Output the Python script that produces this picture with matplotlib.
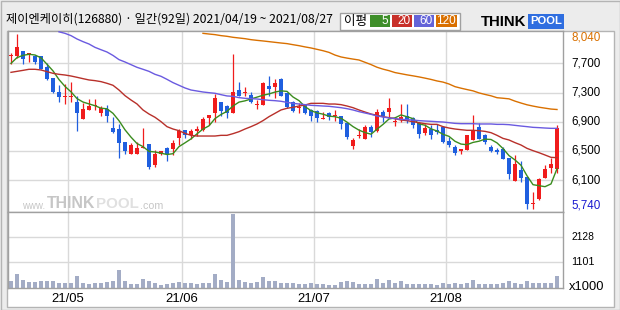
import matplotlib
matplotlib.use('Agg')
import matplotlib.pyplot as plt
import numpy as np
import pandas as pd
from matplotlib.patches import Rectangle

# ---------------- data ----------------
opens = [7753, 7753, 7818, 7779, 7753, 7753, 7608, 7464, 7284, 7210,
         7214, 7153, 6930, 7048, 7096, 7009, 7057, 6812, 6794, 6619,
         6471, 6471, 6549, 6597, 6326, 6462, 6545, 6536, 6681, 6777,
         6711, 6772, 6777, 6939, 7009, 7149, 7096, 7009, 7306, 7267,
         7241, 7105, 7114, 7359, 7346, 7451, 7267, 7153, 7066, 7105,
         7044, 7031, 6930, 7000, 6965, 6965, 6873, 6575, 6698, 6667,
         6820, 6772, 7017, 7022, 6882, 6921, 6965, 6939, 6873, 6746,
         6794, 6781, 6825, 6641, 6558, 6510, 6523, 6654, 6820, 6715,
         6558, 6518, 6531, 6418, 6116, 6256, 6164, 5805, 5871, 6155,
         6286, 6269]
highs = [7796, 8040, 7818, 7792, 7761, 7753, 7656, 7464, 7372, 7385,
         7416, 7228, 7131, 7184, 7188, 7092, 7109, 6948, 6860, 6619,
         6615, 6619, 6812, 6597, 6519, 6510, 6562, 6650, 6799, 6777,
         6799, 6838, 6952, 6974, 7254, 7149, 7109, 7779, 7411, 7341,
         7280, 7175, 7416, 7490, 7451, 7464, 7267, 7162, 7131, 7118,
         7057, 7044, 7013, 7013, 7044, 6965, 6873, 6676, 6799, 6842,
         6842, 7057, 7044, 7205, 6956, 7127, 7127, 6947, 6882, 6855,
         6842, 6855, 6833, 6685, 6580, 6536, 6720, 6978, 6868, 6733,
         6580, 6549, 6553, 6418, 6448, 6374, 6164, 5967, 6145, 6326,
         6418, 6846]
lows = [7643, 7722, 7652, 7674, 7643, 7578, 7438, 7271, 7149, 7127,
        7153, 6772, 6930, 7048, 7044, 6969, 6891, 6746, 6418, 6471,
        6471, 6471, 6541, 6265, 6300, 6453, 6379, 6457, 6584, 6672,
        6667, 6707, 6768, 6847, 6891, 6969, 6943, 7000, 7232, 7228,
        7131, 7052, 7105, 7232, 7206, 7232, 7066, 7018, 7009, 6987,
        6904, 6891, 6921, 6912, 6904, 6799, 6659, 6527, 6680, 6667,
        6694, 6755, 6886, 6947, 6838, 6890, 6873, 6812, 6680, 6711,
        6667, 6724, 6606, 6562, 6453, 6461, 6520, 6654, 6667, 6597,
        6492, 6461, 6405, 6138, 6116, 6103, 5750, 5740, 5865, 6155,
        6212, 6212]
closes = [7770, 7875, 7718, 7788, 7678, 7586, 7451, 7284, 7219, 7228,
          7228, 7009, 7057, 7096, 7109, 7066, 6969, 6759, 6615, 6510,
          6584, 6549, 6558, 6300, 6471, 6506, 6462, 6611, 6764, 6720,
          6764, 6794, 6926, 6974, 7197, 7031, 7000, 7276, 7232, 7280,
          7153, 7122, 7398, 7319, 7403, 7232, 7088, 7031, 7079, 7009,
          6969, 6943, 6943, 6948, 6978, 6864, 6689, 6650, 6715, 6820,
          6755, 7017, 6965, 7070, 6895, 6947, 6899, 6842, 6724, 6807,
          6711, 6755, 6628, 6588, 6483, 6527, 6715, 6777, 6667, 6619,
          6505, 6492, 6405, 6203, 6335, 6155, 5805, 5818, 6138, 6269,
          6335, 6803]
volumes = [332, 620, 374, 291, 291, 332, 332, 332, 250, 250,
           250, 538, 250, 209, 250, 250, 291, 332, 784, 332,
           209, 209, 415, 332, 250, 168, 209, 250, 291, 250,
           250, 209, 250, 250, 620, 374, 291, 3085, 374, 291,
           250, 291, 497, 332, 332, 250, 250, 250, 209, 209,
           250, 209, 209, 168, 168, 291, 332, 291, 209, 209,
           209, 415, 250, 374, 250, 332, 209, 209, 209, 209,
           209, 168, 250, 209, 250, 209, 250, 374, 209, 209,
           209, 209, 250, 332, 250, 209, 332, 250, 250, 250,
           250, 538]
ma5_head = [7656, 7731, 7761, 7775]
ma20 = [7538, 7551, 7564, 7578, 7578, 7569, 7547, 7525, 7512, 7503,
        7490, 7473, 7455, 7438, 7429, 7416, 7394, 7368, 7306, 7232,
        7175, 7123, 7044, 6991, 6948, 6891, 6825, 6794, 6772, 6737,
        6711, 6702, 6702, 6702, 6702, 6711, 6711, 6733, 6759, 6794,
        6825, 6860, 6904, 6956, 7000, 7044, 7066, 7079, 7096, 7109,
        7131, 7131, 7131, 7122, 7122, 7114, 7096, 7074, 7044, 7017,
        6991, 6974, 6956, 6943, 6930, 6912, 6904, 6890, 6877, 6864,
        6855, 6855, 6825, 6807, 6794, 6785, 6777, 6777, 6772, 6763,
        6746, 6711, 6671, 6650, 6615, 6584, 6540, 6510, 6483, 6453,
        6422, 6418]
ma60 = [None] * 8 + [
        8070, 8050, 8020, 7976, 7941, 7910, 7866, 7835, 7805, 7760,
        7705, 7674, 7639, 7604, 7578, 7551, 7512, 7486, 7446, 7403,
        7368, 7333, 7306, 7293, 7280, 7271, 7263, 7245, 7228, 7223,
        7206, 7197, 7193, 7188, 7179, 7171, 7166, 7158, 7144, 7131,
        7122, 7114, 7105, 7101, 7096, 7092, 7083, 7074, 7061, 7044,
        7022, 7004, 6987, 6965, 6952, 6939, 6930, 6921, 6917, 6912,
        6904, 6899, 6895, 6890, 6886, 6877, 6868, 6864, 6864, 6864,
        6860, 6860, 6860, 6855, 6855, 6851, 6842, 6833, 6825, 6816,
        6812, 6807, 6803, 6803]
ma120 = [None] * 32 + [
         8050, 8041, 8033, 8020, 8011, 7998, 7989, 7980, 7967, 7958,
         7950, 7941, 7932, 7923, 7915, 7901, 7888, 7872, 7858, 7840,
         7822, 7800, 7765, 7740, 7725, 7712, 7700, 7670, 7640, 7605,
         7580, 7560, 7535, 7520, 7505, 7492, 7478, 7462, 7445, 7425,
         7410, 7385, 7350, 7330, 7312, 7295, 7268, 7248, 7230, 7205,
         7198, 7190, 7160, 7135, 7112, 7095, 7080, 7068, 7056, 7050]
month_labels = ['21/05', '21/06', '21/07', '21/08']
month_start_idx = [10, 29, 51, 73]
price_labels = ['5,740', '6,100', '6,500', '6,900', '7,300', '7,700', '8,040']
vol_ticks = [1101, 2128]
title = '제이엔케이히(126880) · 일간(92일) 2021/04/19 ~ 2021/08/27'
ma_names = ['5', '20', '60', '120']

# ---------------- style ----------------
UP, DOWN = '#f01c1c', '#1f5fdf'
MA_COLORS = ['#3a8c1e', '#b8302a', '#6a5ae0', '#d97000']
LEG_COLORS = ['#3f8f2a', '#c8302a', '#6464d8', '#d97000']
GRID = '#d9d9d9'
SPINE = '#a0a0a0'
VOLC = '#a3acc5'
NUMFONT = ['Liberation Sans', 'DejaVu Sans']
KFONT = ['Noto Sans CJK KR', 'DejaVu Sans']

W, H = 620, 310
fig = plt.figure(figsize=(W / 100, H / 100), dpi=100, facecolor='#ececec')
renderer = fig.canvas.get_renderer()


def fx(x):
    return x / W


def fy(y):
    return 1 - y / H


def frect(x0, y0, x1, y1, **kw):
    r = Rectangle((fx(x0), fy(y1)), (x1 - x0) / W, (y1 - y0) / H,
                  transform=fig.transFigure, **kw)
    fig.add_artist(r)
    return r


def fit_text(t, width):
    bb = t.get_window_extent(renderer)
    if bb.width > 0:
        t.set_fontsize(t.get_fontsize() * width / bb.width)
    return t


def ptext(x0, x1, yc, s, **kw):
    t = fig.text(fx(x0), fy(yc), s, va='center', ha='left', **kw)
    return fit_text(t, x1 - x0)


# outer frame and white chart body
frect(0.5, 0.5, 619.5, 309.5, facecolor='none', edgecolor='#b4b4b4', lw=1, zorder=0)
frect(6.5, 30.5, 613.5, 306.5, facecolor='white', edgecolor='#b4b4b4', lw=1, zorder=0)

L_, R_ = 7.5, 563
p_top, p_bot = 31, 212
v_top, v_bot = 212, 288

axp = fig.add_axes([fx(L_), fy(p_bot), (R_ - L_) / W, (p_bot - p_top) / H])
axv = fig.add_axes([fx(L_), fy(v_bot), (R_ - L_) / W, (v_bot - v_top) / H])

n = len(closes)
x = np.arange(n)
O = np.array(opens, float)
Hh = np.array(highs, float)
Lw = np.array(lows, float)
C = np.array(closes, float)
lo, hi = Lw.min(), Hh.max()
span = hi - lo
pxv = span / 175.2
XL = (-0.58, 92.0)
axp.set_xlim(*XL)
axp.set_ylim(lo - 2.7 * pxv, hi + 3.1 * pxv)
axv.set_xlim(*XL)
axv.set_ylim(45, 3167)

grid_pos = np.linspace(lo, hi, 7)
for ax in (axp, axv):
    ax.set_xticks([])
    ax.set_yticks([])
    ax.set_facecolor('white')
    for s in ax.spines.values():
        s.set_color(SPINE)
        s.set_linewidth(1.0)
    for m in month_start_idx:
        ax.axvline(m - 0.5, color=GRID, lw=1.0, zorder=0)
for g in grid_pos[1:-1]:
    axp.axhline(g, color=GRID, lw=1.0, zorder=0)
for g in vol_ticks:
    axv.axhline(g, color=GRID, lw=1.0, zorder=0)

# watermark (behind the candles)
wm = '#c6c6c6'
ptext(22, 45, 206, 'www.', color=wm, family=NUMFONT, zorder=1)
ptext(47, 95, 204, 'THINK', color=wm, family=NUMFONT, weight='bold', zorder=1)
ptext(96, 139, 204, 'POOL', color='#e0e0e0', family=NUMFONT, weight='bold', zorder=1)
ptext(140, 163, 206, '.com', color=wm, family=NUMFONT, zorder=1)

# candles
cols = np.where(C >= O, UP, DOWN)
axp.vlines(x, Lw, Hh, colors=cols, lw=0.9, zorder=2)
bottoms = np.minimum(O, C)
heights = np.maximum(np.abs(C - O), pxv * 1.0)
axp.bar(x, heights, bottom=bottoms, width=0.76, color=cols, linewidth=0, zorder=3)

# moving averages
ma5 = pd.Series(C).rolling(5).mean().to_numpy()
ma5[:4] = ma5_head
series = [ma5,
          np.array(ma20, float),
          np.array([np.nan if v is None else v for v in ma60], float),
          np.array([np.nan if v is None else v for v in ma120], float)]
for s, c in zip(series, MA_COLORS):
    axp.plot(x, s, color=c, lw=1.0, zorder=4)

# volume
axv.bar(x, volumes, width=0.78, color=VOLC, linewidth=0, zorder=2)


# price labels on right
def price_y_px(v):
    ylo, yhi = axp.get_ylim()
    return p_bot - (v - ylo) / (yhi - ylo) * (p_bot - p_top)


for i, (v, lab) in enumerate(zip(grid_pos, price_labels)):
    ypx = price_y_px(v)
    col = 'black'
    if i == 0:
        col = '#1a1ad0'
        ypx = min(ypx, p_bot - 7)
    elif i == len(price_labels) - 1:
        col = '#d97000'
        ypx = max(ypx, p_top + 6.5)
    ptext(571, 600, ypx, lab, color=col, family=NUMFONT)


def vol_y_px(v):
    ylo, yhi = axv.get_ylim()
    return v_bot - (v - ylo) / (yhi - ylo) * (v_bot - v_top)


for v in vol_ticks:
    ptext(571, 594, vol_y_px(v), str(v), color='black', family=NUMFONT)
ptext(569, 604, 287, 'x1000', color='black', family=NUMFONT)

# month labels
for m, lab in zip(month_start_idx, month_labels):
    xpx = L_ + (m - 0.5 - XL[0]) / (XL[1] - XL[0]) * (R_ - L_)
    ptext(xpx - 16.5, xpx + 16.5, 298.5, lab, color='black', family=NUMFONT)

# title
ptext(6, 333, 19.5, title, color='black', family=KFONT)

# MA legend box
frect(339.5, 12.5, 459.5, 29.5, facecolor='white', edgecolor='#a0a0a0', lw=1)
ptext(344, 367, 21, '이평', color='black', family=KFONT)
boxes = [(370, 390), (392, 412), (414, 434), (436, 457)]
for (b0, b1), c, lab in zip(boxes, LEG_COLORS, ma_names):
    frect(b0, 15, b1, 27, facecolor=c, edgecolor='none')
    fig.text(fx(b1 - 1.5), fy(21.3), lab, fontsize=8.5, color='white',
             va='center', ha='right', family=NUMFONT)

# THINKPOOL logo
ptext(481, 526, 21.5, 'THINK', color='black', family=NUMFONT, weight='bold')
frect(527.5, 14.5, 564, 28.5, facecolor='#2f6ee0', edgecolor='none')
ptext(530, 562, 21.5, 'POOL', color='white', family=NUMFONT, weight='bold')

fig.savefig('out.png', dpi=100, facecolor=fig.get_facecolor())
